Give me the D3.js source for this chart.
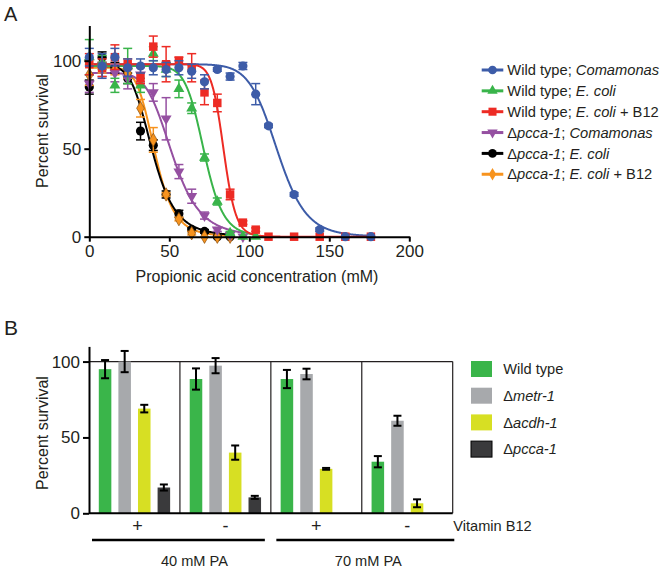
<!DOCTYPE html>
<html><head><meta charset="utf-8">
<script src="https://cdn.jsdelivr.net/npm/d3@7"></script>
<style>
body{margin:0;background:#fff}
text{font-family:"Liberation Sans",Arial,sans-serif;fill:#231f20}
</style>
</head><body>
<svg id="c" width="665" height="571"></svg>
<script>
// ---------- Panel A data: [concentration mM, percent survival, error] ----------
const wtComamonas = [[0,102,5],[8,97,7],[16,102,5],[24,96,5],[32,97,4],[40,96,4],[48,95,4],[56,96,4],[64,94,4],[72,88,4],[80,95,1],[88,91,2],[96,97,2],[104,81,6],[112,63,1],[128,24,1],[144,4,1],[160,0,0],[176,0,0]];
const wtEcoli = [[0,102,10],[8,99,4],[16,86,4],[24,97,10],[32,86,4],[40,104,4],[48,95,4],[56,84,5],[64,73,3],[72,45,2],[80,20,2],[88,2,1],[96,0,0],[104,0,0]];
const wtEcoliB12 = [[0,98,6],[8,96,5],[16,102,7],[24,98,3],[32,90,3],[40,108,6],[48,98,10],[56,100,2],[64,96,8],[72,82,7],[80,76,5],[88,24,3],[96,8,1],[104,4,1],[112,0,0],[128,0,0],[144,0,0],[160,0,0],[176,0,0]];
const pccaComamonas = [[0,87,5],[8,95,4],[16,93,5],[24,90,6],[32,92,4],[40,82,5],[48,67,12],[56,37,4],[64,23,4],[72,12,2],[80,4,1],[88,1,0],[96,0,0]];
const pccaEcoli = [[0,85,4],[8,102,3],[16,96,3],[24,90,3],[32,60,5],[40,52,3],[48,24,2],[56,13,2],[64,4,1],[72,3,1],[80,0,0],[88,0,0]];
const pccaEcoliB12 = [[0,92,6],[8,96,3],[16,95,3],[24,93,3],[32,73,5],[40,55,7],[48,24,1],[56,10,1],[64,2,1],[72,0,0],[80,0,0],[88,0,0]];
// fitted dose-response curves: [top, IC50, Hill slope]
const fitComamonas = [98,117.5,13];
const fitEcoli = [97,71.7,12];
const fitEcoliB12 = [98,84,22];
const fitPccaComamonas = [93,52,6];
const fitPccaEcoli = [97,39.5,5.5];
const fitPccaEcoliB12 = [96,41,6.8];
const xTicksA = [0,50,100,150,200];
const yTicksA = [0,50,100];

// ---------- Panel B data ----------
const vitaminB12 = ["+","-","+","-"];
const paGroups = ["40 mM PA","70 mM PA"];
const strainsB = ["Wild type","metr-1","acdh-1","pcca-1"];
const wildTypeB = [95,88.5,88.5,34];
const wildTypeErr = [6,7,6,3.7];
const metrB = [100,97.3,91.8,61];
const metrErr = [7,5,3.5,3.3];
const acdhB = [69,40,29.3,6.6];
const acdhErr = [2.5,4.7,0.6,2.6];
const pccaB = [17,10.5,null,null];
const pccaErr = [2,1,null,null];
const yTicksB = [0,50,100];

const svg = d3.select("#c");
const ink = "#231f20";

// ================= Panel A =================
const x = d3.scaleLinear().domain([0,200]).range([89.3,409.3]);
const y = d3.scaleLinear().domain([0,120]).range([236.7,25.5]);

const seriesA = [
  {name:[["Wild type; ",0],["Comamonas",1]], data:wtComamonas, fit:fitComamonas, color:"#3d5ca8", sym:d3.symbolCircle, size:66, rot:0},
  {name:[["Wild type; ",0],["E. coli",1]], data:wtEcoli, fit:fitEcoli, color:"#39b44a", sym:d3.symbolTriangle, size:52, rot:0},
  {name:[["Wild type; ",0],["E. coli",1],[" + B12",0]], data:wtEcoliB12, fit:fitEcoliB12, color:"#ed2b24", sym:d3.symbolSquare, size:72, rot:0},
  {name:[["Δ",0],["pcca-1",1],["; ",0],["Comamonas",1]], data:pccaComamonas, fit:fitPccaComamonas, color:"#9550a1", sym:d3.symbolTriangle, size:52, rot:180},
  {name:[["Δ",0],["pcca-1",1],["; ",0],["E. coli",1]], data:pccaEcoli, fit:fitPccaEcoli, color:"#000000", sym:d3.symbolCircle, size:66, rot:0},
  {name:[["Δ",0],["pcca-1",1],["; ",0],["E. coli",1],[" + B12",0]], data:pccaEcoliB12, fit:fitPccaEcoliB12, color:"#f7931e", sym:d3.symbolDiamond, size:52, rot:0}
];

const gA = svg.append("g");
// curves
const line = d3.line().x(d=>x(d[0])).y(d=>y(d[1]));
[5,4,3,1,0,2].forEach(i=>{
  const s = seriesA[i];
  const [top,ic,h] = s.fit;
  const xmax = d3.max(s.data,d=>d[0]);
  const pts = d3.range(0.01, xmax+0.25, 0.25).map(c=>[c, top/(1+Math.pow(c/ic,h))]);
  gA.append("path").attr("d",line(pts)).attr("fill","none").attr("stroke",s.color).attr("stroke-width",2);
});
// error bars + points
[4,5,3,1,2,0].forEach(i=>{
  const s = seriesA[i];
  const g = gA.append("g");
  s.data.forEach(d=>{
    if(d[2]>0){
      const cx=x(d[0]), y1=y(d[1]+d[2]), y2=y(d[1]-d[2]);
      g.append("line").attr("x1",cx).attr("x2",cx).attr("y1",y1).attr("y2",y2).attr("stroke",s.color).attr("stroke-width",1.5);
      [y1,y2].forEach(yy=>g.append("line").attr("x1",cx-4.5).attr("x2",cx+4.5).attr("y1",yy).attr("y2",yy).attr("stroke",s.color).attr("stroke-width",1.5));
    }
  });
  g.selectAll("path.pt").data(s.data).join("path").attr("class","pt")
    .attr("d",d3.symbol().type(s.sym).size(s.size))
    .attr("transform",d=>`translate(${x(d[0])},${y(d[1])}) rotate(${s.rot})`)
    .attr("fill",s.color)
    .attr("stroke",i===5?"#8a5010":"none").attr("stroke-width",0.7);
});

// axes
const axX = svg.append("g").attr("transform",`translate(0,${y(0)})`)
  .call(d3.axisBottom(x).tickValues(xTicksA).tickSize(5).tickSizeOuter(0).tickPadding(3));
const axY = svg.append("g").attr("transform",`translate(${x(0)},0)`)
  .call(d3.axisLeft(y).tickValues(yTicksA).tickSize(5).tickSizeOuter(0).tickPadding(3));
[axX,axY].forEach(a=>{
  a.selectAll("path,line").attr("stroke","#000").attr("stroke-width",2);
  a.selectAll("text").attr("font-size",17).attr("fill",ink).attr("font-family","Liberation Sans, Arial, sans-serif");
});
svg.append("text").attr("x",257).attr("y",282).attr("text-anchor","middle").attr("font-size",16).text("Propionic acid concentration (mM)");
svg.append("text").attr("transform","translate(48,131) rotate(-90)").attr("text-anchor","middle").attr("font-size",16).text("Percent survival");
svg.append("text").attr("x",4).attr("y",21).attr("font-size",20).text("A");

// legend A
seriesA.forEach((s,i)=>{
  const ly = 70 + i*20.85;
  const g = svg.append("g");
  g.append("line").attr("x1",481.7).attr("x2",503.3).attr("y1",ly).attr("y2",ly).attr("stroke",s.color).attr("stroke-width",3);
  g.append("path").attr("d",d3.symbol().type(s.sym).size(s.size*0.9)).attr("transform",`translate(492.5,${ly}) rotate(${s.rot})`).attr("fill",s.color);
  const t = g.append("text").attr("x",507.3).attr("y",ly+5.2).attr("font-size",14.7);
  s.name.forEach(p=>t.append("tspan").attr("font-style",p[1]?"italic":"normal").text(p[0]));
});

// ================= Panel B =================
const colorsB = ["#3ab54a","#a7a9ac","#d7df23","#3a3a3c"];
const valuesB = [wildTypeB, metrB, acdhB, pccaB];
const errsB = [wildTypeErr, metrErr, acdhErr, pccaErr];
const gx = d3.scaleBand().domain(d3.range(vitaminB12.length)).range([89,452.7]);
const inner = d3.scaleBand().domain(strainsB).range([0,gx.bandwidth()]).paddingInner(0.36).paddingOuter(0.5);
const yB = d3.scaleLinear().domain([0,110]).range([513.3,346.4]);

const gB = svg.append("g");
// box
gB.append("line").attr("x1",89).attr("x2",452.7).attr("y1",yB(100)).attr("y2",yB(100)).attr("stroke",ink).attr("stroke-width",1.2);
[1,2,3].forEach(i=>gB.append("line").attr("x1",gx(i)).attr("x2",gx(i)).attr("y1",yB(100)).attr("y2",yB(0)).attr("stroke",ink).attr("stroke-width",1.2));
gB.append("line").attr("x1",452.7).attr("x2",452.7).attr("y1",yB(100)).attr("y2",yB(0)).attr("stroke",ink).attr("stroke-width",1.2);

// bars
strainsB.forEach((st,si)=>{
  valuesB[si].forEach((v,gi)=>{
    if(v==null) return;
    const bx = gx(gi)+inner(st), bw = inner.bandwidth();
    gB.append("rect").attr("x",bx).attr("y",yB(v)).attr("width",bw).attr("height",yB(0)-yB(v))
      .attr("fill",colorsB[si]);
    const e = errsB[si][gi], cx = bx+bw/2;
    const y1=yB(v+e), y2=yB(v-e);
    gB.append("line").attr("x1",cx).attr("x2",cx).attr("y1",y1).attr("y2",y2).attr("stroke","#000").attr("stroke-width",2);
    [y1,y2].forEach(yy=>gB.append("line").attr("x1",cx-4).attr("x2",cx+4).attr("y1",yy).attr("y2",yy).attr("stroke","#000").attr("stroke-width",2));
  });
});

// axes B
const axYB = svg.append("g").attr("transform","translate(89,0)")
  .call(d3.axisLeft(yB).tickValues(yTicksB).tickSize(6).tickSizeOuter(0).tickPadding(3));
axYB.selectAll("path,line").attr("stroke","#000").attr("stroke-width",2);
axYB.selectAll("text").attr("font-size",17).attr("fill",ink).attr("font-family","Liberation Sans, Arial, sans-serif");
svg.append("line").attr("x1",89).attr("x2",452.7).attr("y1",yB(0)).attr("y2",yB(0)).attr("stroke","#000").attr("stroke-width",2);
svg.append("text").attr("transform","translate(48,433) rotate(-90)").attr("text-anchor","middle").attr("font-size",16).text("Percent survival");
svg.append("text").attr("x",4).attr("y",335).attr("font-size",21).text("B");

// vitamin labels
vitaminB12.forEach((v,i)=>{
  svg.append("text").attr("x",gx(i)+gx.bandwidth()/2+(i===0?3:0)).attr("y",532).attr("text-anchor","middle").attr("font-size",18).text(v);
});
svg.append("text").attr("x",453.3).attr("y",531).attr("font-size",14.6).text("Vitamin B12");

// PA group lines
const paSpans = [[gx(0)+3, gx(1)+gx.bandwidth()-6],[gx(2)+5.5, gx(3)+gx.bandwidth()+1.6]];
const paDx = [16,3];
paGroups.forEach((p,i)=>{
  svg.append("line").attr("x1",paSpans[i][0]).attr("x2",paSpans[i][1]).attr("y1",540).attr("y2",540).attr("stroke","#000").attr("stroke-width",2.5);
  svg.append("text").attr("x",(paSpans[i][0]+paSpans[i][1])/2+paDx[i]).attr("y",566).attr("text-anchor","middle").attr("font-size",14.6).text(p);
});

// legend B
strainsB.forEach((st,i)=>{
  const ly = 369 + i*26.7;
  svg.append("rect").attr("x",471).attr("y",ly-8).attr("width",21).attr("height",16)
    .attr("fill",colorsB[i]).attr("stroke",i===3?"#000":"none").attr("stroke-width",1);
  const t = svg.append("text").attr("x",503.3).attr("y",ly+5.2).attr("font-size",14.6);
  if(i===0) t.text(st);
  else { t.append("tspan").text("Δ"); t.append("tspan").attr("font-style","italic").text(st); }
});
</script>
</body></html>
